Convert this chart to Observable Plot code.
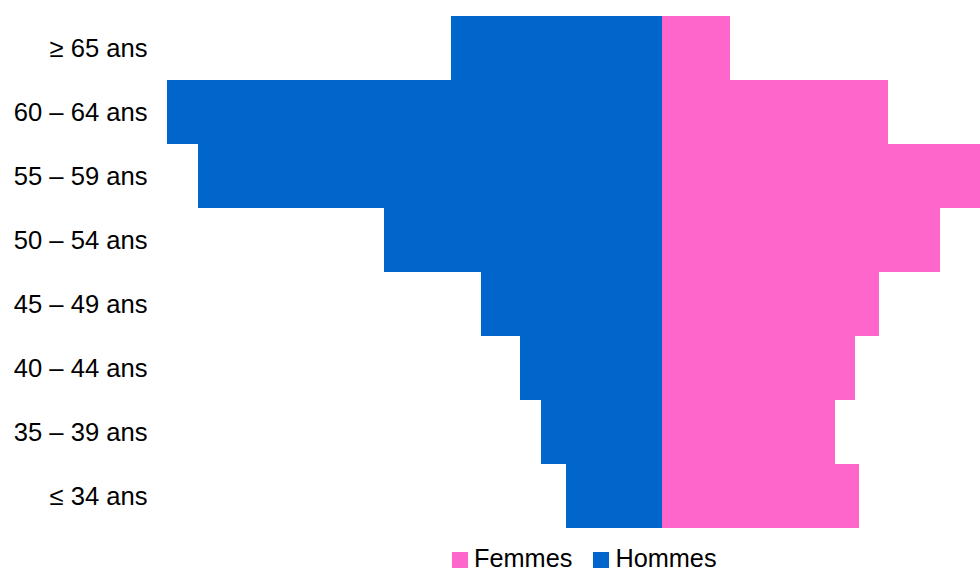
<!DOCTYPE html>
<html>
<head>
<meta charset="utf-8">
<script src="https://cdn.jsdelivr.net/npm/d3@7"></script>
<script src="https://cdn.jsdelivr.net/npm/@observablehq/plot@0.6"></script>
<style>
  html, body { margin: 0; padding: 0; background: #fff; }
  body { width: 980px; height: 573px; position: relative; overflow: hidden; font-family: "Liberation Sans", Arial, sans-serif; }
  #legend { position: absolute; left: 452px; top: 549px; display: flex; align-items: flex-start; font-size: 25.3px; line-height: 18px; color: #000; }
  #legend .item { display: flex; align-items: flex-start; margin-right: 21px; }
  #legend .sw { width: 16px; height: 16px; margin-top: 3px; margin-right: 6px; }
</style>
</head>
<body>
<div id="chart"></div>
<div id="legend"></div>
<script>
const ages = ["≥ 65 ans", "60 – 64 ans", "55 – 59 ans", "50 – 54 ans", "45 – 49 ans", "40 – 44 ans", "35 – 39 ans", "≤ 34 ans"];
const hommes = [211, 495, 464, 278, 181, 142, 121, 96];
const femmes = [68, 226, 318, 278, 217, 193, 173, 197];
const series = ["Femmes", "Hommes"];
const colors = ["#FF66CC", "#0066CC"];

const data = [];
ages.forEach((a, i) => {
  data.push({age: a, sexe: "Hommes", v: -hommes[i]});
  data.push({age: a, sexe: "Femmes", v: femmes[i]});
});

const chart = Plot.plot({
  width: 980,
  height: 544,
  marginLeft: 167,
  marginRight: 0,
  marginTop: 15,
  marginBottom: 15,
  style: {fontFamily: "Liberation Sans, Arial, sans-serif", fontSize: "25.6px", color: "#000", background: "#fff"},
  x: {domain: [-d3.max(hommes), d3.max(femmes)], axis: null},
  y: {domain: ages, padding: 0, label: null, tickSize: 0, tickPadding: 20},
  color: {domain: series, range: colors},
  marks: [
    Plot.barX(data, {x: "v", y: "age", fill: "sexe"})
  ]
});
document.getElementById("chart").appendChild(chart);

const leg = document.getElementById("legend");
series.forEach((s, i) => {
  const it = document.createElement("div");
  it.className = "item";
  const sw = document.createElement("span");
  sw.className = "sw";
  sw.style.background = colors[i];
  const t = document.createElement("span");
  t.textContent = s;
  it.appendChild(sw); it.appendChild(t);
  leg.appendChild(it);
});
</script>
</body>
</html>
